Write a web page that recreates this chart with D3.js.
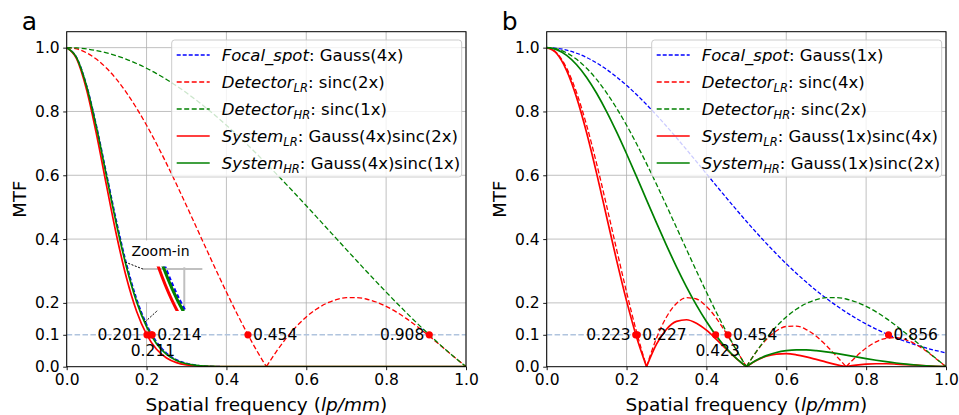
<!DOCTYPE html>
<html>
<head>
<meta charset="utf-8">
<script src="https://cdn.jsdelivr.net/npm/d3@7"></script>
<style>
  body { margin: 0; background: #fff; }
  svg { font-family: "DejaVu Sans", sans-serif; }
</style>
</head>
<body>
<svg id="chart" width="959" height="415"></svg>
<script>
/** Spatial frequency samples (lp/mm) */
const freq = [0, 0.025, 0.05, 0.075, 0.1, 0.125, 0.15, 0.175, 0.2, 0.225, 0.25, 0.275, 0.3, 0.325, 0.35, 0.375, 0.4, 0.425, 0.45, 0.475,
  0.5, 0.525, 0.55, 0.575, 0.6, 0.625, 0.65, 0.675, 0.7, 0.725, 0.75, 0.775, 0.8, 0.825, 0.85, 0.875, 0.9, 0.925, 0.95, 0.975, 1.0];

/** Panel a MTF values */
const focalA = [1, 0.9691, 0.8819, 0.7537, 0.6049, 0.4559, 0.3227, 0.2145, 0.1339, 0.0785, 0.0432, 0.0223, 0.0109, 0.0049, 0.0021, 0.0009, 0.0003, 0.0001,
  0, 0, 0, 0, 0, 0, 0, 0, 0, 0, 0, 0, 0, 0, 0, 0, 0, 0, 0, 0, 0, 0, 0];
const detLRA = [1, 0.9959, 0.9836, 0.9634, 0.9355, 0.9003, 0.8584, 0.8103, 0.7568, 0.6987, 0.6366, 0.5716, 0.5046, 0.4363, 0.3679, 0.3001, 0.2339, 0.1700, 0.1093, 0.0524,
  0, 0.0474, 0.0894, 0.1257, 0.1559, 0.1801, 0.1981, 0.2101, 0.2162, 0.2168, 0.2122, 0.2028, 0.1892, 0.1719, 0.1515, 0.1286, 0.1039, 0.0781, 0.0518, 0.0255, 0];
const detHRA = [1, 0.9990, 0.9959, 0.9908, 0.9836, 0.9745, 0.9634, 0.9504, 0.9355, 0.9188, 0.9003, 0.8802, 0.8584, 0.8351, 0.8103, 0.7842, 0.7568, 0.7283, 0.6987, 0.6681,
  0.6366, 0.6044, 0.5716, 0.5383, 0.5046, 0.4705, 0.4363, 0.4021, 0.3679, 0.3339, 0.3001, 0.2667, 0.2339, 0.2016, 0.1700, 0.1392, 0.1093, 0.0803, 0.0524, 0.0256, 0];
const sysLRA = [1, 0.9651, 0.8675, 0.7261, 0.5659, 0.4105, 0.2770, 0.1738, 0.1014, 0.0548, 0.0275, 0.0128, 0.0055, 0.0022, 0.0008, 0.0003, 0.0001,
  0, 0, 0, 0, 0, 0, 0, 0, 0, 0, 0, 0, 0, 0, 0, 0, 0, 0, 0, 0, 0, 0, 0, 0];
const sysHRA = [1, 0.9681, 0.8783, 0.7468, 0.5950, 0.4443, 0.3109, 0.2039, 0.1253, 0.0721, 0.0389, 0.0197, 0.0093, 0.0041, 0.0017, 0.0007, 0.0002, 0.0001,
  0, 0, 0, 0, 0, 0, 0, 0, 0, 0, 0, 0, 0, 0, 0, 0, 0, 0, 0, 0, 0, 0, 0];

/** Panel b MTF values */
const focalB = [1, 0.9980, 0.9922, 0.9825, 0.9691, 0.9521, 0.9318, 0.9083, 0.8819, 0.8530, 0.8217, 0.7885, 0.7537, 0.7176, 0.6806, 0.6429, 0.6049, 0.5670, 0.5293, 0.4922,
  0.4559, 0.4207, 0.3866, 0.3539, 0.3227, 0.2931, 0.2652, 0.2390, 0.2145, 0.1918, 0.1708, 0.1515, 0.1339, 0.1179, 0.1033, 0.0902, 0.0785, 0.0680, 0.0587, 0.0505, 0.0432];
const detLRB = [1, 0.9836, 0.9355, 0.8584, 0.7568, 0.6366, 0.5046, 0.3679, 0.2339, 0.1093, 0, 0.0894, 0.1559, 0.1981, 0.2162, 0.2122, 0.1892, 0.1515, 0.1039, 0.0518,
  0, 0.0468, 0.0851, 0.1120, 0.1261, 0.1273, 0.1164, 0.0954, 0.0668, 0.0339, 0, 0.0317, 0.0585, 0.0780, 0.0890, 0.0910, 0.0841, 0.0696, 0.0492, 0.0252, 0];
const detHRB = [1, 0.9959, 0.9836, 0.9634, 0.9355, 0.9003, 0.8584, 0.8103, 0.7568, 0.6987, 0.6366, 0.5716, 0.5046, 0.4363, 0.3679, 0.3001, 0.2339, 0.1700, 0.1093, 0.0524,
  0, 0.0474, 0.0894, 0.1257, 0.1559, 0.1801, 0.1981, 0.2101, 0.2162, 0.2168, 0.2122, 0.2028, 0.1892, 0.1719, 0.1515, 0.1286, 0.1039, 0.0781, 0.0518, 0.0255, 0];
const sysLRB = [1, 0.9817, 0.9282, 0.8434, 0.7334, 0.6061, 0.4701, 0.3341, 0.2063, 0.0932, 0, 0.0705, 0.1175, 0.1422, 0.1472, 0.1364, 0.1145, 0.0859, 0.0550, 0.0255,
  0, 0.0197, 0.0329, 0.0396, 0.0407, 0.0373, 0.0309, 0.0228, 0.0143, 0.0065, 0, 0.0048, 0.0078, 0.0092, 0.0092, 0.0082, 0.0066, 0.0047, 0.0029, 0.0013, 0];
const sysHRB = [1, 0.9939, 0.9759, 0.9465, 0.9066, 0.8572, 0.7998, 0.7360, 0.6675, 0.5959, 0.5231, 0.4507, 0.3803, 0.3131, 0.2504, 0.1929, 0.1415, 0.0964, 0.0579, 0.0258,
  0, 0.0200, 0.0346, 0.0445, 0.0503, 0.0528, 0.0525, 0.0502, 0.0464, 0.0416, 0.0363, 0.0307, 0.0253, 0.0203, 0.0157, 0.0116, 0.0082, 0.0053, 0.0030, 0.0013, 0];

/** MTF = 0.1 crossings */
const mtfLevel = 0.1;
const crossA = [0.201, 0.211, 0.214, 0.454, 0.908];
const crossB = [0.223, 0.227, 0.423, 0.454, 0.856];

/** Legend texts */
const legendNames = ['Focal_spot', 'Detector', 'Detector', 'System', 'System'];
const legendSubs = ['', 'LR', 'HR', 'LR', 'HR'];
const legendA = [': Gauss(4x)', ': sinc(2x)', ': sinc(1x)', ': Gauss(4x)sinc(2x)', ': Gauss(4x)sinc(1x)'];
const legendB = [': Gauss(1x)', ': sinc(4x)', ': sinc(2x)', ': Gauss(1x)sinc(4x)', ': Gauss(1x)sinc(2x)'];

/** Tick values */
const xTicks = [0, 0.2, 0.4, 0.6, 0.8, 1.0];
const yTicks = [0, 0.1, 0.2, 0.4, 0.6, 0.8, 1.0];
const yGrid = [0.2, 0.4, 0.6, 0.8, 1.0];

/** Line styles, in series order */
const styles = [
  { color: '#0000ff', dash: '4,2', width: 1.3 },
  { color: '#ff0000', dash: '5,2.5', width: 1.3 },
  { color: '#008000', dash: '5,2.5', width: 1.3 },
  { color: '#ff0000', dash: null, width: 1.7 },
  { color: '#008000', dash: null, width: 1.7 }
];

/** Crossing label placement */
const placeA = ['left', 'below', 'right', 'right', 'left'];
const placeB = ['left', 'right', 'below', 'right', 'right'];

const panels = [
  { letter: 'a', left: 66.7, series: [focalA, detLRA, detHRA, sysLRA, sysHRA], legend: legendA, cross: crossA, place: placeA, inset: true },
  { letter: 'b', left: 546.7, series: [focalB, detLRB, detHRB, sysLRB, sysHRB], legend: legendB, cross: crossB, place: placeB, inset: false }
];

const svg = d3.select('#chart');
const plotW = 399.3, plotTop = 31.7, plotBottom = 366.7;

/** Split a curve into pieces at its zeros so the cusps stay sharp */
const segments = (vals) => {
  let segs = [];
  let cur = [];
  vals.forEach((v, i) => {
    cur.push([freq[i], v]);
    if (v === 0) {
      if (cur.length > 1) segs.push(cur);
      cur = [[freq[i], v]];
    }
  });
  if (cur.length > 1) segs.push(cur);
  return segs;
};

const drawPanel = (p, idx) => {
  const g = svg.append('g');
  const x = d3.scaleLinear().domain([0, 1]).range([p.left, p.left + plotW]);
  const y = d3.scaleLinear().domain([0, 1.05]).range([plotBottom, plotTop]);

  const clipId = 'clip' + idx;
  svg.append('clipPath').attr('id', clipId)
    .append('rect').attr('x', x(0)).attr('y', plotTop).attr('width', plotW).attr('height', plotBottom - plotTop);

  /** Grid */
  g.selectAll('.vg').data(xTicks).enter().append('line')
    .attr('x1', d => x(d)).attr('x2', d => x(d)).attr('y1', plotBottom).attr('y2', plotTop)
    .attr('stroke', '#b0b0b0').attr('stroke-width', 0.8);
  g.selectAll('.hg').data(yGrid).enter().append('line')
    .attr('x1', x(0)).attr('x2', x(1)).attr('y1', d => y(d)).attr('y2', d => y(d))
    .attr('stroke', '#b0b0b0').attr('stroke-width', 0.8);

  /** MTF = 0.1 reference line */
  g.append('line')
    .attr('x1', x(0)).attr('x2', x(1)).attr('y1', y(mtfLevel)).attr('y2', y(mtfLevel))
    .attr('stroke', '#b0c4de').attr('stroke-width', 1.5).attr('stroke-dasharray', '5.5,2.4');

  /** Inset white mask (panel a) */
  if (p.inset) {
    g.append('rect').attr('x', 140).attr('y', 240.5).attr('width', 65).attr('height', 61.5).attr('fill', '#fff');
  }

  const line = d3.line().x(d => x(d[0])).y(d => y(d[1])).curve(d3.curveMonotoneX);

  const curves = g.append('g').attr('clip-path', `url(#${clipId})`);
  p.series.forEach((vals, i) => {
    const st = styles[i];
    curves.append('path')
      .attr('d', segments(vals).map(s => line(s)).join(''))
      .attr('fill', 'none')
      .attr('stroke', st.color)
      .attr('stroke-width', st.width)
      .attr('stroke-dasharray', st.dash);
  });

  /** Crossing dots and labels */
  g.selectAll('.dot').data(p.cross).enter().append('circle')
    .attr('cx', d => x(d)).attr('cy', y(mtfLevel)).attr('r', 3.6).attr('fill', '#ff0000');
  g.selectAll('.lbl').data(p.cross).enter().append('text')
    .attr('x', (d, i) => x(d) + (p.place[i] === 'left' ? -5 : p.place[i] === 'right' ? 5 : 2))
    .attr('y', (d, i) => y(mtfLevel) + (p.place[i] === 'below' ? 16 : 0))
    .attr('text-anchor', (d, i) => p.place[i] === 'left' ? 'end' : p.place[i] === 'right' ? 'start' : 'middle')
    .attr('dominant-baseline', 'central')
    .attr('font-size', 15.5)
    .text(d => d3.format('.3f')(d));

  /** Zoom-in inset */
  if (p.inset) {
    const ix = d3.scaleLinear().domain([0.13, 0.223]).range([143, 203]);
    const iy = d3.scaleLinear().domain([0.147, 0.26]).range([311, 266.5]);
    svg.append('clipPath').attr('id', 'insetClip')
      .append('rect').attr('x', 143).attr('y', 266.5).attr('width', 60).attr('height', 44.5);
    const ins = g.append('g');
    ins.append('line').attr('x1', ix(0.13)).attr('x2', ix(0.222)).attr('y1', iy(0.2535)).attr('y2', iy(0.2535))
      .attr('stroke', '#c0c0c0').attr('stroke-width', 2);
    ins.append('line').attr('x1', ix(0.194)).attr('x2', ix(0.194)).attr('y1', iy(0.258)).attr('y2', iy(0.15))
      .attr('stroke', '#c0c0c0').attr('stroke-width', 2);
    const iline = d3.line().x(d => ix(d[0])).y(d => iy(d[1])).curve(d3.curveMonotoneX);
    const icurves = ins.append('g').attr('clip-path', 'url(#insetClip)');
    [0, 3, 4].forEach((i) => {
      const st = styles[i];
      icurves.append('path')
        .attr('d', segments(p.series[i]).map(s => iline(s)).join(''))
        .attr('fill', 'none')
        .attr('stroke', st.color)
        .attr('stroke-width', 3)
        .attr('stroke-dasharray', st.dash ? '4,2.5' : null);
    });
    /** Connector lines */
    ins.append('line').attr('x1', x(0.146)).attr('y1', y(0.328)).attr('x2', ix(0.13)).attr('y2', iy(0.2535))
      .attr('stroke', '#000').attr('stroke-width', 1).attr('stroke-dasharray', '2,1.5');
    ins.append('line').attr('x1', x(0.196)).attr('y1', y(0.14)).attr('x2', ix(0.1533)).attr('y2', iy(0.1495))
      .attr('stroke', '#000').attr('stroke-width', 1).attr('stroke-dasharray', '2,1.5');
    ins.append('text').attr('x', 160.5).attr('y', 256).attr('text-anchor', 'middle')
      .attr('font-size', 14).text('Zoom-in');
  }

  /** Axes */
  const xAxis = d3.axisBottom(x).tickValues(xTicks).tickFormat(d3.format('.1f')).tickSize(3.5).tickPadding(3.5);
  const yAxis = d3.axisLeft(y).tickValues(yTicks).tickFormat(d3.format('.1f')).tickSize(3.5).tickPadding(3.5);
  const gx = g.append('g').attr('transform', `translate(0,${plotBottom})`).call(xAxis);
  const gy = g.append('g').attr('transform', `translate(${x(0)},0)`).call(yAxis);
  [gx, gy].forEach(a => {
    a.select('.domain').remove();
    a.selectAll('text').attr('font-size', 15.5).attr('fill', '#000').attr('font-family', '"DejaVu Sans", sans-serif');
    a.selectAll('line').attr('stroke', '#000').attr('stroke-width', 0.9);
  });
  g.append('rect').attr('x', x(0)).attr('y', plotTop).attr('width', plotW).attr('height', plotBottom - plotTop)
    .attr('fill', 'none').attr('stroke', '#000').attr('stroke-width', 1);

  /** Axis labels */
  g.append('text').attr('x', x(0.5)).attr('y', 411).attr('text-anchor', 'middle').attr('font-size', 18.5)
    .call(t => {
      t.append('tspan').text('Spatial frequency (');
      t.append('tspan').attr('font-style', 'italic').text('lp/mm');
      t.append('tspan').text(')');
    });
  g.append('text').attr('transform', `translate(${x(0) - 41},${(plotTop + plotBottom) / 2}) rotate(-90)`)
    .attr('text-anchor', 'middle').attr('font-size', 18).text('MTF');

  /** Panel letter */
  g.append('text').attr('x', x(0) - 45).attr('y', 30).attr('font-size', 25).text(p.letter);

  /** Legend */
  const lx = x(0) + 105, ly = 40;
  const lg = g.append('g');
  lg.append('rect').attr('x', lx).attr('y', ly).attr('width', 290).attr('height', 137).attr('rx', 3)
    .attr('fill', '#fff').attr('fill-opacity', 0.8).attr('stroke', '#cccccc').attr('stroke-width', 1);
  p.legend.forEach((desc, i) => {
    const st = styles[i];
    const ry = ly + 15 + i * 27;
    lg.append('line').attr('x1', lx + 5).attr('x2', lx + 38).attr('y1', ry).attr('y2', ry)
      .attr('stroke', st.color).attr('stroke-width', st.width).attr('stroke-dasharray', st.dash);
    const t = lg.append('text').attr('x', lx + 50).attr('y', ry + 6).attr('font-size', 16.5);
    t.append('tspan').attr('font-style', 'italic').text(legendNames[i]);
    if (legendSubs[i]) {
      t.append('tspan').attr('font-style', 'italic').attr('font-size', 11.5).attr('dy', 4).text(legendSubs[i]);
      t.append('tspan').attr('dy', -4).text(desc);
    } else {
      t.append('tspan').text(desc);
    }
  });
};

panels.forEach(drawPanel);
</script>
</body>
</html>
